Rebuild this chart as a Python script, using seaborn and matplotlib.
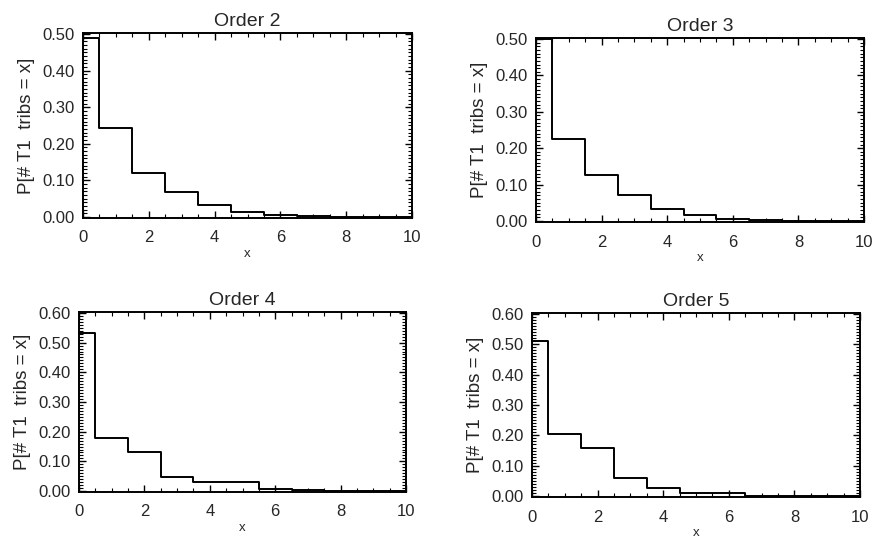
import numpy as np
import pandas as pd
import matplotlib
matplotlib.use("Agg")
import matplotlib.pyplot as plt
from matplotlib.ticker import MultipleLocator, FormatStrFormatter
import seaborn as sns

sns.set_theme(style="white")
plt.rcParams['font.family'] = ['Liberation Sans', 'DejaVu Sans']

x_vals = [0, 1, 2, 3, 4, 5, 6, 7, 8, 9, 10]
order2 = [0.490, 0.242, 0.121, 0.067, 0.033, 0.014, 0.005, 0.002, 0.001, 0.0005, 0.0]
order3 = [0.500, 0.225, 0.127, 0.072, 0.034, 0.016, 0.006, 0.003, 0.0, 0.0, 0.0]
order4 = [0.532, 0.180, 0.133, 0.048, 0.029, 0.032, 0.007, 0.005, 0.001, 0.0005, 0.0]
order5 = [0.512, 0.206, 0.157, 0.058, 0.026, 0.011, 0.010, 0.0, 0.0, 0.0, 0.0]
titles = ["Order 2", "Order 3", "Order 4", "Order 5"]
series = [order2, order3, order4, order5]
ytops = [0.5, 0.5, 0.6, 0.6]
ylabel = "P[# T1  tribs = x]"
xlabel = "x"

W, H = 872, 543
fig = plt.figure(figsize=(W / 100, H / 100), dpi=100)
fig.patch.set_facecolor("white")

boxes = [(83, 412, 33, 218), (536, 864, 38, 222), (79, 406, 312, 492), (532, 860, 313, 497)]

for (l, r, t, b), title, vals, ytop in zip(boxes, titles, series, ytops):
    ax = fig.add_axes([l / W, 1 - b / H, (r - l) / W, (b - t) / H])
    df = pd.DataFrame({"x": x_vals, "p": vals})
    sns.lineplot(data=df, x="x", y="p", ax=ax, color="black", linewidth=1.4,
                 drawstyle="steps-mid", clip_on=False)
    ax.set_xlim(0, 10)
    ax.set_ylim(-0.003, ytop + 0.003)
    ax.xaxis.set_major_locator(MultipleLocator(2))
    ax.xaxis.set_minor_locator(MultipleLocator(0.5))
    ax.yaxis.set_major_locator(MultipleLocator(0.1))
    ax.yaxis.set_minor_locator(MultipleLocator(0.01))
    ax.yaxis.set_major_formatter(FormatStrFormatter("%.2f"))
    ax.tick_params(which="both", direction="in", top=True, right=True,
                   bottom=True, left=True, color="black")
    ax.tick_params(which="major", length=5, width=1.0, labelsize=12, pad=6)
    ax.tick_params(axis="x", which="major", pad=9)
    ax.tick_params(which="minor", length=3, width=0.8)
    for s in ax.spines.values():
        s.set_color("black")
        s.set_linewidth(1.4)
    ax.set_title(title, fontsize=14, pad=5)
    ax.set_ylabel(ylabel, fontsize=13.5, labelpad=5)
    ax.set_xlabel(xlabel, fontsize=9.5, labelpad=2)
    ax.grid(False)

fig.savefig("out.png", dpi=100, facecolor="white")
